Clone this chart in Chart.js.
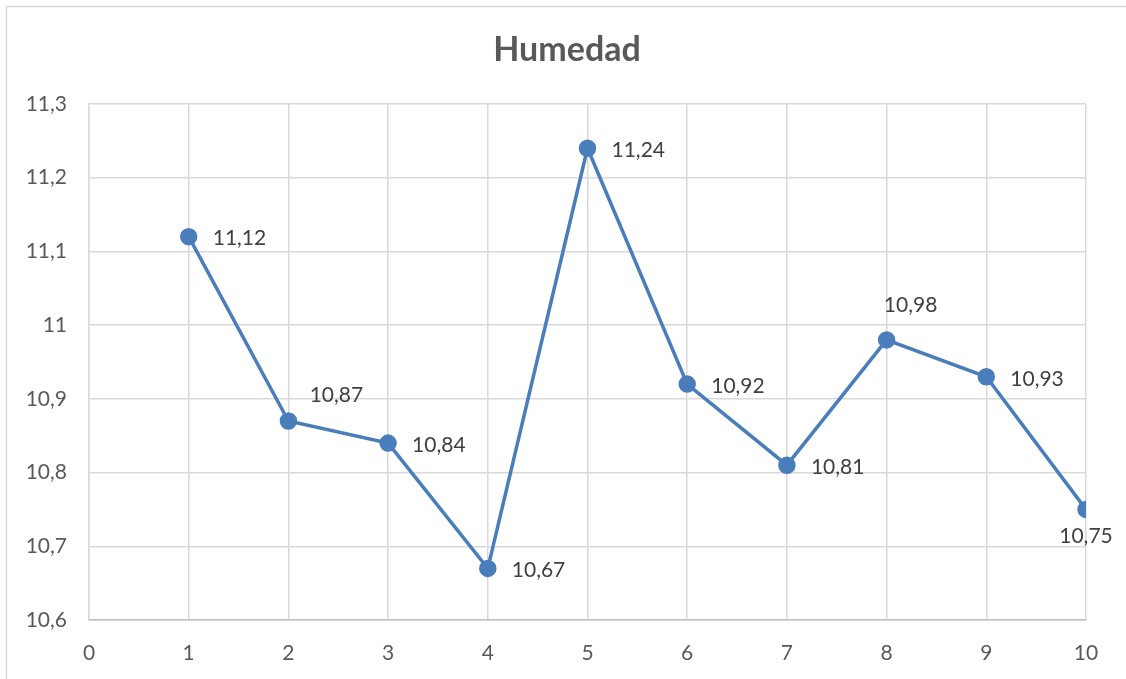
<!DOCTYPE html>
<html>
<head>
<meta charset="utf-8">
<script src="https://cdn.jsdelivr.net/npm/chart.js@4.4.1/dist/chart.umd.min.js"></script>
<style>
html,body{margin:0;padding:0;background:#fff;}
#wrap{width:1126px;height:679px;position:relative;}
</style>
</head>
<body>
<div id="wrap"><canvas id="c" width="1126" height="679"></canvas></div>
<script>
const chartTitle = "Humedad";
const xValues = [1, 2, 3, 4, 5, 6, 7, 8, 9, 10];
const humedad = [11.12, 10.87, 10.84, 10.67, 11.24, 10.92, 10.81, 10.98, 10.93, 10.75];

// label placement (style): offsets from point centre, text alignment
const labelStyle = [
  { dx: 24, dy: 2, align: 'left' },
  { dx: 48, dy: -26, align: 'center' },
  { dx: 24, dy: 2, align: 'left' },
  { dx: 24, dy: 2, align: 'left' },
  { dx: 24, dy: 2, align: 'left' },
  { dx: 24, dy: 2, align: 'left' },
  { dx: 24, dy: 2, align: 'left' },
  { dx: 24, dy: -35, align: 'center' },
  { dx: 24, dy: 2, align: 'left' },
  { dx: 0, dy: 27, align: 'center' }
];

const points = xValues.map((x, i) => ({ x: x, y: humedad[i] }));
const fmt = v => String(v).replace('.', ',');
const FONT = "Lato, 'Open Sans', sans-serif";

const frame = {
  id: 'frame',
  beforeDraw(chart) {
    const ctx = chart.ctx;
    ctx.save();
    ctx.fillStyle = '#fff';
    ctx.fillRect(0, 0, chart.width, chart.height);
    ctx.strokeStyle = '#d9d9d9';
    ctx.lineWidth = 1.5;
    ctx.beginPath();
    ctx.moveTo(6.5, chart.height + 5);
    ctx.lineTo(6.5, 6.5);
    ctx.lineTo(chart.width + 5, 6.5);
    ctx.stroke();
    ctx.fillStyle = '#595959';
    ctx.font = "bold 34px " + FONT;
    ctx.textAlign = 'center';
    ctx.textBaseline = 'middle';
    ctx.fillText(chartTitle, chart.width / 2 + 4, 50);
    ctx.restore();
  }
};

const dataLabels = {
  id: 'dataLabels',
  afterDatasetsDraw(chart) {
    const ctx = chart.ctx;
    const meta = chart.getDatasetMeta(0);
    ctx.save();
    ctx.font = "21px " + FONT;
    ctx.fillStyle = '#404040';
    ctx.textBaseline = 'middle';
    meta.data.forEach((pt, i) => {
      const s = labelStyle[i];
      ctx.textAlign = s.align;
      ctx.fillText(fmt(humedad[i]), pt.x + s.dx, pt.y + s.dy);
    });
    ctx.restore();
  }
};

new Chart(document.getElementById('c'), {
  type: 'scatter',
  data: {
    datasets: [{
      data: points,
      showLine: true,
      borderColor: '#4a7ebb',
      backgroundColor: '#4a7ebb',
      borderWidth: 3.5,
      pointRadius: 7,
      pointHoverRadius: 7,
      tension: 0
    }]
  },
  options: {
    responsive: false,
    animation: false,
    devicePixelRatio: 1,
    layout: { padding: { left: 0, right: 40, top: 104, bottom: 0 } },
    plugins: {
      legend: { display: false },
      tooltip: { enabled: false },
      title: { display: false }
    },
    scales: {
      x: {
        type: 'linear',
        min: 0, max: 10,
        ticks: { stepSize: 1, color: '#595959', font: { family: FONT, size: 21 }, padding: 21, maxRotation: 0 },
        grid: { color: '#d9d9d9', lineWidth: 1.5, drawTicks: false },
        border: { color: '#bfbfbf', width: 1.5 },
        afterFit(s) { s.height = 59; }
      },
      y: {
        min: 10.6, max: 11.3,
        ticks: { stepSize: 0.1, color: '#595959', font: { family: FONT, size: 21 }, padding: 22,
                 callback: v => fmt(Math.round(v * 10) / 10) },
        grid: { color: '#d9d9d9', lineWidth: 1.5, drawTicks: false },
        border: { color: '#d9d9d9', width: 1.5 },
        afterFit(s) { s.width = 89; }
      }
    }
  },
  plugins: [frame, dataLabels]
});
</script>
</body>
</html>
